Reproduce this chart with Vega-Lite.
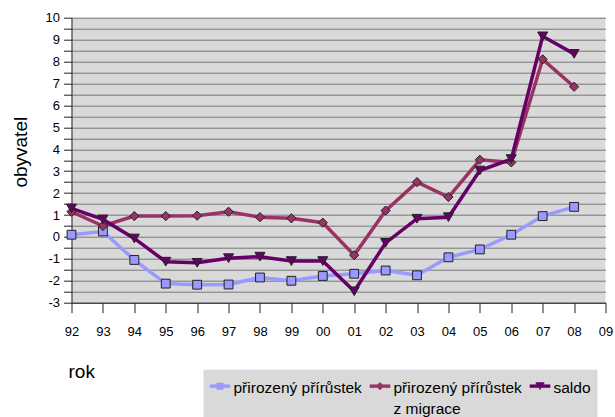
{
  "$schema": "https://vega.github.io/schema/vega-lite/v6.json",
  "width": 534,
  "height": 285,
  "autosize": "none",
  "padding": {"left": 71.5, "top": 17.7, "right": 9.5, "bottom": 114.3},
  "background": "white",
  "config": {
    "font": "Liberation Sans",
    "view": {"fill": "#d9d9d9", "stroke": null}
  },
  "data": {
    "values": [
      {"rok": "92", "serie": "přirozený přírůstek", "hodnota": 0.10},
      {"rok": "93", "serie": "přirozený přírůstek", "hodnota": 0.25},
      {"rok": "94", "serie": "přirozený přírůstek", "hodnota": -1.05},
      {"rok": "95", "serie": "přirozený přírůstek", "hodnota": -2.13},
      {"rok": "96", "serie": "přirozený přírůstek", "hodnota": -2.18},
      {"rok": "97", "serie": "přirozený přírůstek", "hodnota": -2.17},
      {"rok": "98", "serie": "přirozený přírůstek", "hodnota": -1.85},
      {"rok": "99", "serie": "přirozený přírůstek", "hodnota": -2.0},
      {"rok": "00", "serie": "přirozený přírůstek", "hodnota": -1.78},
      {"rok": "01", "serie": "přirozený přírůstek", "hodnota": -1.68},
      {"rok": "02", "serie": "přirozený přírůstek", "hodnota": -1.53},
      {"rok": "03", "serie": "přirozený přírůstek", "hodnota": -1.75},
      {"rok": "04", "serie": "přirozený přírůstek", "hodnota": -0.93},
      {"rok": "05", "serie": "přirozený přírůstek", "hodnota": -0.57},
      {"rok": "06", "serie": "přirozený přírůstek", "hodnota": 0.10},
      {"rok": "07", "serie": "přirozený přírůstek", "hodnota": 0.95},
      {"rok": "08", "serie": "přirozený přírůstek", "hodnota": 1.37},
      {"rok": "92", "serie": "přirozený přírůstek z migrace", "hodnota": 1.15},
      {"rok": "93", "serie": "přirozený přírůstek z migrace", "hodnota": 0.50},
      {"rok": "94", "serie": "přirozený přírůstek z migrace", "hodnota": 0.95},
      {"rok": "95", "serie": "přirozený přírůstek z migrace", "hodnota": 0.95},
      {"rok": "96", "serie": "přirozený přírůstek z migrace", "hodnota": 0.97},
      {"rok": "97", "serie": "přirozený přírůstek z migrace", "hodnota": 1.15},
      {"rok": "98", "serie": "přirozený přírůstek z migrace", "hodnota": 0.90},
      {"rok": "99", "serie": "přirozený přírůstek z migrace", "hodnota": 0.85},
      {"rok": "00", "serie": "přirozený přírůstek z migrace", "hodnota": 0.65},
      {"rok": "01", "serie": "přirozený přírůstek z migrace", "hodnota": -0.83},
      {"rok": "02", "serie": "přirozený přírůstek z migrace", "hodnota": 1.20},
      {"rok": "03", "serie": "přirozený přírůstek z migrace", "hodnota": 2.50},
      {"rok": "04", "serie": "přirozený přírůstek z migrace", "hodnota": 1.82},
      {"rok": "05", "serie": "přirozený přírůstek z migrace", "hodnota": 3.52},
      {"rok": "06", "serie": "přirozený přírůstek z migrace", "hodnota": 3.40},
      {"rok": "07", "serie": "přirozený přírůstek z migrace", "hodnota": 8.10},
      {"rok": "08", "serie": "přirozený přírůstek z migrace", "hodnota": 6.85},
      {"rok": "92", "serie": "saldo", "hodnota": 1.30},
      {"rok": "93", "serie": "saldo", "hodnota": 0.80},
      {"rok": "94", "serie": "saldo", "hodnota": -0.07},
      {"rok": "95", "serie": "saldo", "hodnota": -1.13},
      {"rok": "96", "serie": "saldo", "hodnota": -1.18},
      {"rok": "97", "serie": "saldo", "hodnota": -0.97},
      {"rok": "98", "serie": "saldo", "hodnota": -0.90},
      {"rok": "99", "serie": "saldo", "hodnota": -1.10},
      {"rok": "00", "serie": "saldo", "hodnota": -1.10},
      {"rok": "01", "serie": "saldo", "hodnota": -2.48},
      {"rok": "02", "serie": "saldo", "hodnota": -0.27},
      {"rok": "03", "serie": "saldo", "hodnota": 0.83},
      {"rok": "04", "serie": "saldo", "hodnota": 0.90},
      {"rok": "05", "serie": "saldo", "hodnota": 3.03},
      {"rok": "06", "serie": "saldo", "hodnota": 3.55},
      {"rok": "07", "serie": "saldo", "hodnota": 9.15},
      {"rok": "08", "serie": "saldo", "hodnota": 8.35}
    ]
  },
  "encoding": {
    "x": {
      "field": "rok",
      "type": "ordinal",
      "sort": null,
      "scale": {
        "type": "point",
        "padding": 0,
        "domain": ["92", "93", "94", "95", "96", "97", "98", "99", "00", "01", "02", "03", "04", "05", "06", "07", "08", "09"]
      },
      "axis": {
        "title": "rok",
        "labelAngle": 0,
        "tickSize": 10,
        "labelPadding": 13,
        "labelFontSize": 13,
        "labelColor": "#000",
        "domainColor": "#222",
        "tickColor": "#222",
        "grid": false,
        "titleAnchor": "start",
        "titleAlign": "left",
        "titleX": -3.5,
        "titleY": 75,
        "titleBaseline": "alphabetic",
        "titleFontSize": 19,
        "titleFontWeight": "normal",
        "titleColor": "#000"
      }
    },
    "y": {
      "field": "hodnota",
      "type": "quantitative",
      "scale": {"domain": [-3, 10], "nice": false, "zero": false},
      "axis": {
        "title": "obyvatel",
        "values": [-3, -2.5, -2, -1.5, -1, -0.5, 0, 0.5, 1, 1.5, 2, 2.5, 3, 3.5, 4, 4.5, 5, 5.5, 6, 6.5, 7, 7.5, 8, 8.5, 9, 9.5, 10],
        "labelExpr": "datum.value % 1 == 0 ? '' + datum.value : ''",
        "grid": true,
        "gridColor": "#777777",
        "gridWidth": 1,
        "domainColor": "#222",
        "tickColor": "#222",
        "tickSize": 8,
        "labelFontSize": 13,
        "labelColor": "#000",
        "labelPadding": 4,
        "titleFontSize": 19,
        "titleFontWeight": "normal",
        "titleColor": "#000",
        "titleX": -51,
        "titleY": 134,
        "titleAlign": "center",
        "titleBaseline": "middle"
      }
    }
  },
  "layer": [
    {
      "mark": {"type": "line", "strokeWidth": 3.5},
      "encoding": {
        "color": {
          "field": "serie",
          "type": "nominal",
          "scale": {
            "domain": ["přirozený přírůstek", "přirozený přírůstek z migrace", "saldo"],
            "range": ["#9999ff", "#993366", "#660066"]
          },
          "legend": {
            "orient": "none",
            "legendX": 132,
            "legendY": 352,
            "direction": "horizontal",
            "columns": 3,
            "title": null,
            "fillColor": "#d9d9d9",
            "padding": 6,
            "labelFontSize": 15.5,
            "labelColor": "#000",
            "labelLimit": 400,
            "labelOffset": 3,
            "columnPadding": 6,
            "symbolSize": 400,
            "labelBaseline": "alphabetic",
            "labelExpr": "datum.label == 'přirozený přírůstek z migrace' ? ['přirozený přírůstek', 'z migrace'] : [datum.label, ' ']",
            "encode": {
              "symbols": {
                "update": {
                  "shape": {"signal": "datum.value == 'saldo' ? 'M-1,-0.14H-0.33L-0.42,-0.36H0.42L0.33,-0.14H1V0.14H0.09L0,0.36L-0.09,0.14H-1Z' : datum.value == 'přirozený přírůstek' ? 'M-1,-0.14H-0.32V-0.32H0.32V-0.14H1V0.14H0.32V0.32H-0.32V0.14H-1Z' : 'M-1,-0.14H-0.24L0,-0.38L0.24,-0.14H1V0.14H0.24L0,0.38L-0.24,0.14H-1Z'"},
                  "fill": {"scale": "color", "field": "value"},
                  "stroke": {"value": "#333"},
                  "strokeWidth": {"value": 0.6},
                  "size": {"value": 400},
                  "opacity": {"value": 1}
                }
              },
              "labels": {
                "update": {
                  "dy": {"value": 7},
                  "lineHeight": {"value": 21}
                }
              }
            }
          }
        }
      }
    },
    {
      "transform": [{"filter": "datum.serie == 'přirozený přírůstek'"}],
      "mark": {"type": "point", "shape": "square", "filled": true, "fill": "#9999ff", "opacity": 1, "stroke": "#222", "strokeWidth": 1, "size": 78}
    },
    {
      "transform": [{"filter": "datum.serie == 'přirozený přírůstek z migrace'"}],
      "mark": {"type": "point", "shape": "diamond", "filled": true, "fill": "#993366", "opacity": 1, "stroke": "#222", "strokeWidth": 1, "size": 85}
    },
    {
      "transform": [{"filter": "datum.serie == 'saldo'"}],
      "mark": {"type": "point", "shape": "triangle-down", "filled": true, "fill": "#660066", "opacity": 1, "stroke": "#222", "strokeWidth": 1, "size": 100}
    }
  ]
}
